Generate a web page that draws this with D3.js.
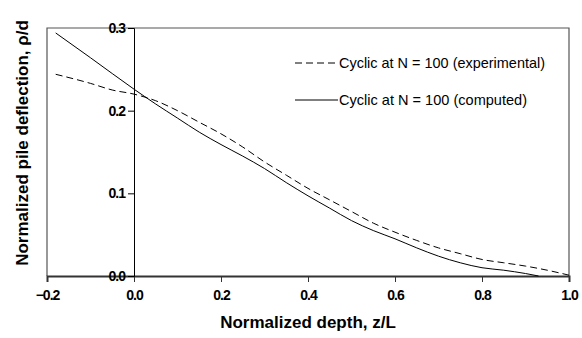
<!DOCTYPE html>
<html>
<head>
<meta charset="utf-8">
<script src="https://cdn.jsdelivr.net/npm/d3@7"></script>
<style>
  body { margin: 0; background: #fff; }
  svg { display: block; }
  .tick-lbl { font-family: "Liberation Sans", Arial, sans-serif; font-weight: bold; font-size: 14px; letter-spacing: -1px; fill: #000; }
  .axis-title { font-family: "Liberation Sans", Arial, sans-serif; font-weight: bold; font-size: 17px; fill: #000; }
  .legend-lbl { font-family: "Liberation Sans Narrow", "Liberation Sans", Arial, sans-serif; font-size: 15px; fill: #000; }
</style>
</head>
<body>
<div id="chart"></div>
<script>
// depth z/L and normalized deflection p/d
const depthComputed = [-0.18, -0.1, 0, 0.05, 0.1, 0.15, 0.2, 0.25, 0.3, 0.35, 0.4, 0.45, 0.5, 0.55, 0.6, 0.65, 0.7, 0.75, 0.8, 0.85, 0.9, 0.93];
const deflComputed = [0.294, 0.264, 0.226, 0.208, 0.191, 0.174, 0.159, 0.145, 0.130, 0.113, 0.097, 0.082, 0.067, 0.055, 0.045, 0.034, 0.024, 0.016, 0.010, 0.007, 0.003, 0.0];

const depthExperimental = [-0.18, -0.1, -0.05, 0, 0.05, 0.1, 0.15, 0.2, 0.25, 0.3, 0.35, 0.4, 0.45, 0.5, 0.55, 0.6, 0.65, 0.7, 0.75, 0.8, 0.85, 0.9, 0.95, 1.0];
const deflExperimental = [0.244, 0.233, 0.225, 0.220, 0.212, 0.200, 0.186, 0.172, 0.156, 0.138, 0.122, 0.106, 0.092, 0.078, 0.064, 0.053, 0.043, 0.034, 0.027, 0.020, 0.016, 0.012, 0.007, 0.001];

const xTicks = [-0.2, 0, 0.2, 0.4, 0.6, 0.8, 1.0];
const yTicks = [0, 0.1, 0.2, 0.3];

const legendLabels = ["Cyclic at N = 100 (experimental)", "Cyclic at N = 100 (computed)"];

const W = 582, H = 338;
const margin = { top: 28, right: 13, bottom: 62, left: 47 };
const width = W - margin.left - margin.right;
const height = H - margin.top - margin.bottom;

const svg = d3.select("#chart").append("svg")
    .attr("width", W)
    .attr("height", H);

const g = svg.append("g")
    .attr("transform", `translate(${margin.left},${margin.top})`);

const x = d3.scaleLinear().domain([-0.2, 1.0]).range([0, width]);
const y = d3.scaleLinear().domain([0, 0.3]).range([height, 0]);

// frame (left, top, right)
g.append("path")
    .attr("d", `M0,${height}V0H${width}V${height}`)
    .attr("fill", "none")
    .attr("stroke", "#555")
    .attr("stroke-width", 1.2);

// x axis along y = 0
const xAxis = g.append("g")
    .attr("transform", `translate(0,${height})`)
    .call(d3.axisBottom(x).tickValues(xTicks).tickSize(6).tickFormat(d3.format(".1f")));
xAxis.select(".domain").attr("stroke", "#333").attr("stroke-width", 2);
xAxis.selectAll(".tick line").attr("stroke", "#333");
xAxis.selectAll(".tick text").attr("class", "tick-lbl").attr("dy", "1.1em").attr("font-size", null).attr("font-family", null);

// y axis at z/L = 0
const yAxis = g.append("g")
    .attr("transform", `translate(${x(0)},0)`)
    .call(d3.axisLeft(y).tickValues(yTicks).tickSize(6).tickPadding(3).tickFormat(d3.format(".1f")));
yAxis.select(".domain").attr("stroke", "#000").attr("stroke-width", 1);
yAxis.selectAll(".tick line").attr("stroke", "#000");
yAxis.selectAll(".tick text").attr("class", "tick-lbl").attr("font-size", null).attr("font-family", null);

const line = d3.line()
    .x(d => x(d[0]))
    .y(d => y(d[1]))
    .curve(d3.curveMonotoneX);

g.append("path")
    .datum(d3.zip(depthExperimental, deflExperimental))
    .attr("fill", "none")
    .attr("stroke", "#000")
    .attr("stroke-width", 1)
    .attr("stroke-dasharray", "7,4")
    .attr("d", line);

g.append("path")
    .datum(d3.zip(depthComputed, deflComputed))
    .attr("fill", "none")
    .attr("stroke", "#000")
    .attr("stroke-width", 1)
    .attr("d", line);

// legend
const legend = svg.append("g");
const dashes = ["7,4", null];
const labelWidths = [206, 188];
legendLabels.forEach((lbl, i) => {
    const ly = 63 + i * 37;
    legend.append("line")
        .attr("x1", 295).attr("x2", 338)
        .attr("y1", ly).attr("y2", ly)
        .attr("stroke", "#000")
        .attr("stroke-width", 1)
        .attr("stroke-dasharray", dashes[i]);
    legend.append("text")
        .attr("class", "legend-lbl")
        .attr("x", 339)
        .attr("y", ly)
        .attr("dy", "0.35em")
        .attr("textLength", labelWidths[i])
        .attr("lengthAdjust", "spacingAndGlyphs")
        .text(lbl);
});

// axis titles
svg.append("text")
    .attr("class", "axis-title")
    .attr("x", margin.left + width / 2)
    .attr("y", 328)
    .attr("text-anchor", "middle")
    .text("Normalized depth, z/L");

svg.append("text")
    .attr("class", "axis-title")
    .attr("transform", `translate(28,143) rotate(-90)`)
    .attr("text-anchor", "middle")
    .text("Normalized pile deflection, ρ/d");
</script>
</body>
</html>
